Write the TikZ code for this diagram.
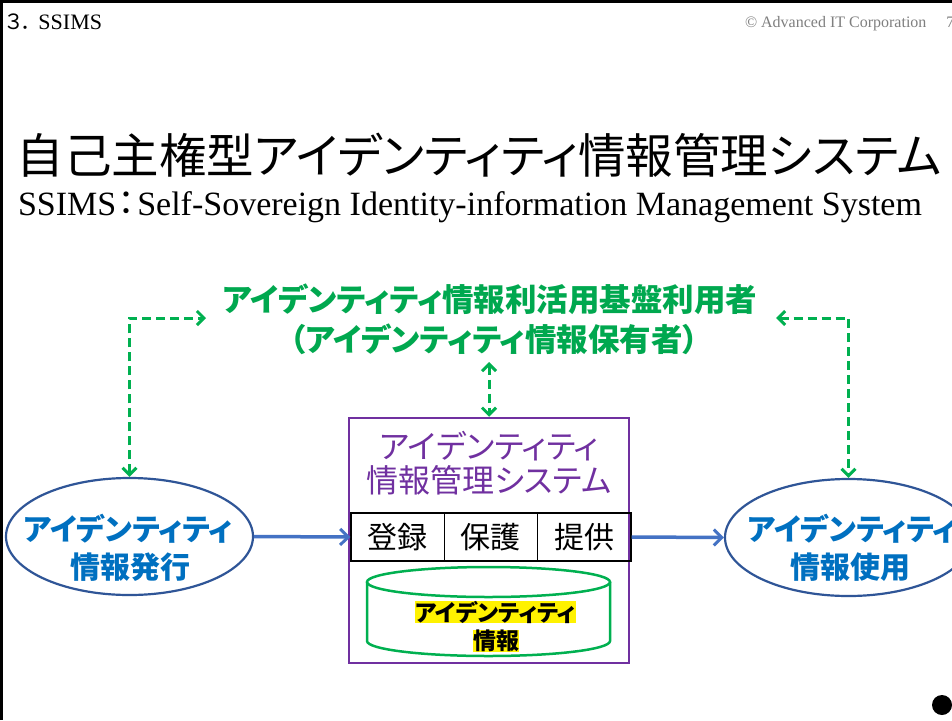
\documentclass[tikz,border=0pt]{standalone}
\usepackage{fontspec}
\usetikzlibrary{arrows.meta,shapes.geometric}
\setmainfont{Liberation Serif}
\newfontfamily\jp[RawFeature=+palt]{Noto Sans CJK JP}
\newfontfamily\jpf{Noto Sans CJK JP}
\definecolor{ggreen}{HTML}{00A84F}
\definecolor{cgreen}{HTML}{00B050}
\definecolor{ppurple}{HTML}{7030A0}
\definecolor{ablue}{HTML}{4472C4}
\definecolor{eblue}{HTML}{2F5597}
\definecolor{tblue}{HTML}{0070C0}
\definecolor{cgray}{HTML}{7F7F7F}
\newcommand{\fs}[1]{\fontsize{#1}{#1}\selectfont}
\begin{document}
\begin{tikzpicture}[x=1pt,y=-1pt,
  txt/.style={inner sep=0pt, outer sep=0pt},
  gdash/.style={draw=cgreen, line width=3pt, dash pattern=on 9pt off 5pt,
     arrows={Straight Barb[length=7pt,width=14pt,line width=3pt]-Straight Barb[length=7pt,width=14pt,line width=3pt]}},
  barrow/.style={draw=ablue, line width=3.5pt, -{Straight Barb[length=8pt,width=16pt,line width=3pt]}},
  oval/.style={ellipse, draw=eblue, line width=2.2pt, minimum width=247pt, minimum height=117pt, inner sep=0pt},
  cell/.style={draw=black, line width=1.3pt, minimum width=93.3pt, minimum height=48pt, inner sep=0pt, font=\jp\fs{30}},
  hl/.style={txt, fill=yellow, font=\jp\bfseries\fs{23}}
]
\useasboundingbox (0,0) rectangle (952,720);
\fill[white] (0,0) rectangle (952,720);
\draw[line width=3pt] (1.5,720) -- (1.5,1.5) -- (952,1.5);

% header
\node[txt, anchor=west] (hdr) at (6,22) {{\jp\fs{21}３．}\kern6pt{\fs{22}SSIMS}};
\node[txt, anchor=west, text=cgray, font=\fs{16}] (copy) at (745,24) {© Advanced IT Corporation\hspace{20pt}7};

% title
\node[txt] (title) at (479,155) {\jp\fs{47.5}自己主権型アイデンティティ情報管理システム};
\node[txt, anchor=west] (sub) at (18,207) {\fs{34}SSIMS\kern2pt{\jp ：}\kern2pt Self-Sovereign Identity-information Management System};

% user
\node[txt, text=ggreen, font=\jp\bfseries\fs{31.5}] (user1) at (490,299) {アイデンティティ情報利活用基盤利用者};
\node[txt, text=ggreen, font=\jp\bfseries\fs{31.5}] (user2) at (494,339) {（アイデンティティ情報保有者）};
\coordinate (uL) at (206,318);
\coordinate (uR) at (776,318);
\coordinate (uB) at (489,362);

% system box
\node[draw=ppurple, line width=2.5pt, minimum width=280pt, minimum height=245pt, inner sep=0pt] (sys) at (489,540.5) {};
\node[txt, text=ppurple, font=\jp\fs{32}] (sys1) at (489,446) {アイデンティティ};
\node[txt, text=ppurple, font=\jp\fs{32}] (sys2) at (489,480) {情報管理システム};
\node[cell] (c1) at (397.6,537) {登録};
\node[cell] (c2) at (490.9,537) {保護};
\node[cell] (c3) at (584.2,537) {提供};

% database cylinder
\draw[cgreen, line width=2.5pt] (488.5,582) ellipse [x radius=121.5pt, y radius=15pt];
\draw[cgreen, line width=2.5pt] (367,582) -- (367,641) arc[start angle=180, end angle=360, x radius=121.5pt, y radius=15pt] -- (610,582);
\node[hl] (db1) at (495.5,612) {アイデンティティ};
\node[hl] (db2) at (496,641) {情報};

% ellipses
\node[oval] (iss) at (129.5,536.5) {};
\node[txt, text=tblue, font=\jp\bfseries\fs{30}] (iss1) at (128,529) {アイデンティティ};
\node[txt, text=tblue, font=\jp\bfseries\fs{30}] (iss2) at (130,567) {情報発行};
\node[oval] (use) at (848.5,537.5) {};
\node[txt, text=tblue, font=\jp\bfseries\fs{30}] (use1) at (852,529) {アイデンティティ};
\node[txt, text=tblue, font=\jp\bfseries\fs{30}] (use2) at (850,567) {情報使用};

% connectors
\draw[barrow] (iss.east) -- (c1.west);
\draw[barrow] (c3.east) -- (use.west);
\draw[gdash] (iss.north) |- (uL);
\draw[gdash] (uR) -| (use.north);
\draw[gdash] (uB) -- (sys.north);

\fill (942,705) circle [radius=10pt];
\end{tikzpicture}
\end{document}
